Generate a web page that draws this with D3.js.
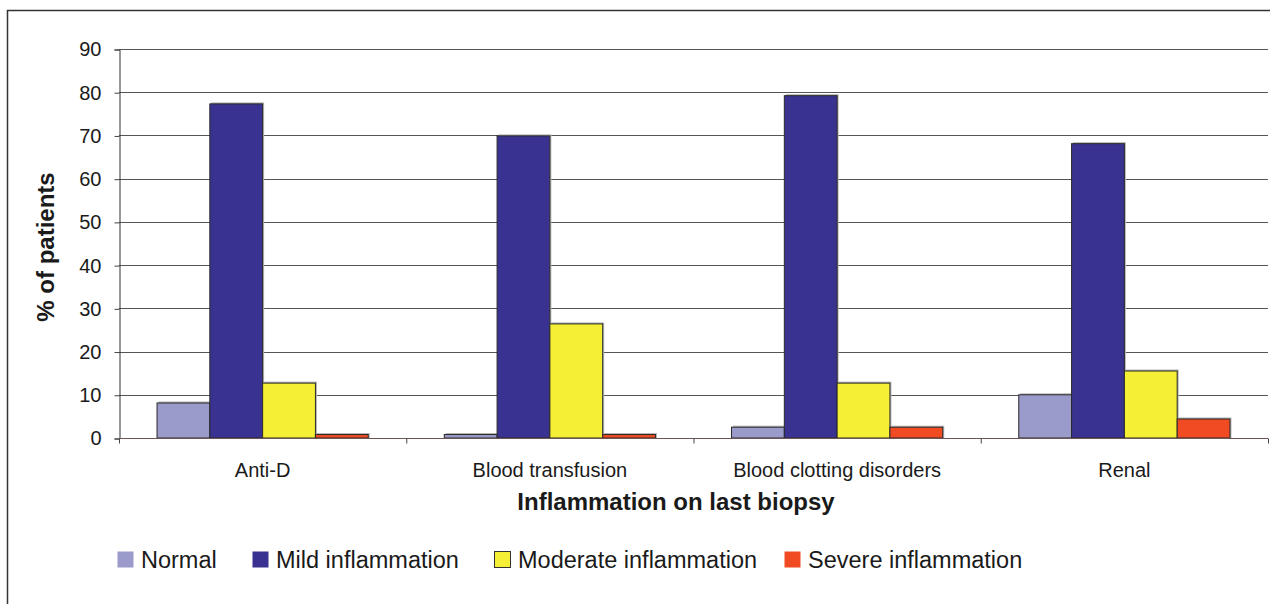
<!DOCTYPE html>
<html>
<head>
<meta charset="utf-8">
<script src="https://cdn.jsdelivr.net/npm/d3@7"></script>
<style>
  html, body { margin: 0; padding: 0; background: #fff; }
  svg { display: block; }
  text { font-family: "Liberation Sans", Arial, Helvetica, sans-serif; fill: #1a1a1a; }
</style>
</head>
<body>
<svg id="chart" width="1270" height="604"></svg>
<script>
// Inflammation grade on last biopsy, by source of infection
const categories = ["Anti-D", "Blood transfusion", "Blood clotting disorders", "Renal"];
const seriesNames = ["Normal", "Mild inflammation", "Moderate inflammation", "Severe inflammation"];
const normal   = [8.1, 0.8, 2.5, 10.0];
const mild     = [77.3, 69.9, 79.2, 68.1];
const moderate = [12.7, 26.4, 12.7, 15.5];
const severe   = [0.8, 0.8, 2.5, 4.4];
const yTicks   = [0, 10, 20, 30, 40, 50, 60, 70, 80, 90];
const colors   = ["#9a9acb", "#393290", "#f5ef35", "#f04b22"];

const seriesValues = [normal, mild, moderate, severe];

const svg = d3.select("#chart");

// outer frame
svg.append("rect")
  .attr("x", 7.5).attr("y", 10.5)
  .attr("width", 1300).attr("height", 700)
  .attr("fill", "none").attr("stroke", "#333").attr("stroke-width", 1.5);

const plotLeft = 119, plotRight = 1268, plotTop = 49, plotBottom = 438;

const x = d3.scaleBand().domain(categories).range([plotLeft, plotRight]).padding(0);
const xs = d3.scaleBand().domain(seriesNames).range([0, x.bandwidth()])
  .paddingInner(0).paddingOuter(0.72);
const y = d3.scaleLinear().domain([0, 90]).range([plotBottom, plotTop]);

// horizontal gridlines
svg.append("g").selectAll("line")
  .data(yTicks.filter(t => t > 0))
  .join("line")
  .attr("x1", plotLeft).attr("x2", plotRight)
  .attr("y1", d => Math.round(y(d)) + 0.5).attr("y2", d => Math.round(y(d)) + 0.5)
  .attr("stroke", "#555").attr("stroke-width", 1);

// y axis
const yAxis = svg.append("g")
  .attr("transform", `translate(${plotLeft + 0.5},0.5)`)
  .call(d3.axisLeft(y).tickValues(yTicks).tickSize(5).tickPadding(13));
yAxis.select(".domain").attr("stroke", "#333");
yAxis.selectAll(".tick line").attr("stroke", "#444");
yAxis.selectAll(".tick text")
  .attr("fill", "#1a1a1a")
  .style("font-size", "20px")
  .style("font-family", '"Liberation Sans", Arial, sans-serif');

// bars
const groups = svg.append("g").selectAll("g")
  .data(categories)
  .join("g")
  .attr("transform", d => `translate(${x(d)},0)`);

groups.each(function(cat, ci) {
  const g = d3.select(this);
  const data = seriesNames.map((s, si) => ({ s, si, v: seriesValues[si][ci] }));
  // soft shadow
  g.selectAll("rect.shadow").data(data).join("rect")
    .attr("class", "shadow")
    .attr("x", d => xs(d.s) + 1.5)
    .attr("y", d => y(d.v) - 1.5)
    .attr("width", xs.bandwidth())
    .attr("height", d => plotBottom - y(d.v) + 1.5)
    .attr("fill", "#b5b5b5");
  g.selectAll("rect.bar").data(data).join("rect")
    .attr("class", "bar")
    .attr("x", d => xs(d.s))
    .attr("y", d => y(d.v))
    .attr("width", xs.bandwidth())
    .attr("height", d => plotBottom - y(d.v))
    .attr("fill", d => colors[d.si])
    .attr("stroke", "#2a2a2a").attr("stroke-width", 1);
});

// x axis
const xAxis = svg.append("g")
  .attr("transform", `translate(0,${plotBottom + 0.5})`);
xAxis.append("line")
  .attr("x1", plotLeft).attr("x2", plotRight)
  .attr("stroke", "#6e5555").attr("stroke-width", 1.2);
xAxis.selectAll("line.sep")
  .data(d3.range(categories.length + 1))
  .join("line")
  .attr("class", "sep")
  .attr("x1", i => plotLeft + i * x.step() + 0.5).attr("x2", i => plotLeft + i * x.step() + 0.5)
  .attr("y1", 0).attr("y2", 5)
  .attr("stroke", "#444");
xAxis.selectAll("text")
  .data(categories)
  .join("text")
  .attr("x", d => x(d) + x.bandwidth() / 2)
  .attr("y", 38)
  .attr("text-anchor", "middle")
  .style("font-size", "20px")
  .text(d => d);

// axis titles
svg.append("text")
  .attr("x", 676).attr("y", 510)
  .attr("text-anchor", "middle")
  .style("font-size", "24px").style("font-weight", "bold")
  .text("Inflammation on last biopsy");

svg.append("text")
  .attr("transform", "translate(54,247) rotate(-90)")
  .attr("text-anchor", "middle")
  .style("font-size", "24px").style("font-weight", "bold")
  .text("% of patients");

// legend
const legendX = [117, 252, 494, 784];
const legend = svg.append("g").selectAll("g")
  .data(seriesNames)
  .join("g")
  .attr("transform", (d, i) => `translate(${legendX[i]},551)`);
legend.append("rect")
  .attr("x", 0.5).attr("y", 0.5)
  .attr("width", 16).attr("height", 16)
  .attr("fill", (d, i) => colors[i])
  .attr("stroke", (d, i) => i === 2 ? "#333" : "none");
legend.append("text")
  .attr("x", 24).attr("y", 16.5)
  .style("font-size", "23.5px")
  .text(d => d);
</script>
</body>
</html>
